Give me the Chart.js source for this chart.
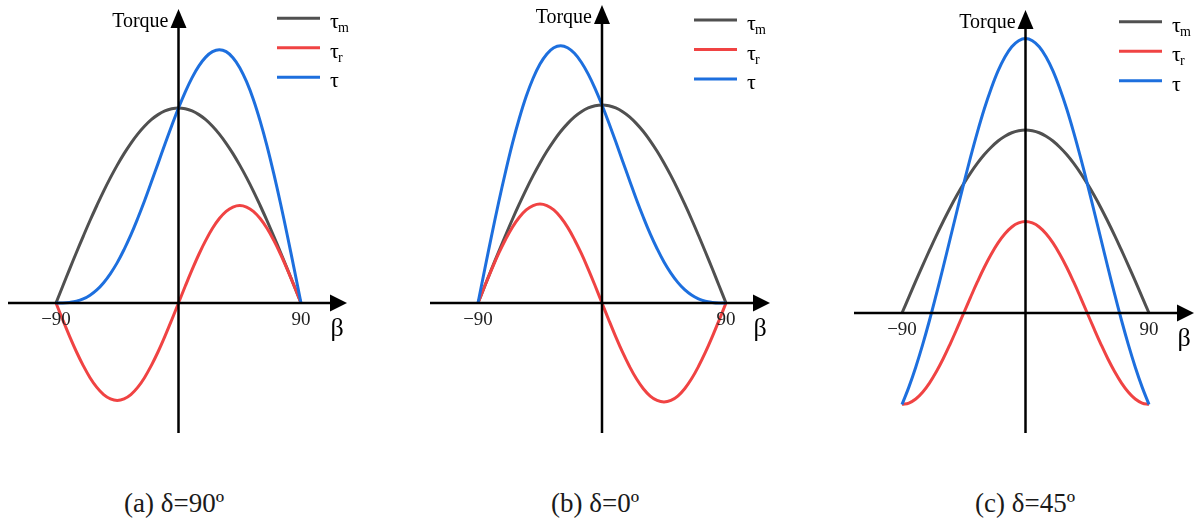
<!DOCTYPE html>
<html>
<head>
<meta charset="utf-8">
<script src="https://cdn.jsdelivr.net/npm/chart.js@4.4.0/dist/chart.umd.min.js"></script>
<style>
  body { margin: 0; background: #fff; }
  #wrap { position: relative; width: 1198px; height: 522px; overflow: hidden; }
  #wrap canvas { position: absolute; top: 0; }
  .caption {
    position: absolute; top: 490px; line-height: 26px;
    font-family: "Liberation Serif", "Times New Roman", serif; font-size: 27px;
    color: #1a1a1a; transform: translateX(-50%); white-space: nowrap;
  }
</style>
</head>
<body>
<div id="wrap">
  <canvas id="chartA" width="400" height="460" style="left:0px"></canvas>
  <canvas id="chartB" width="400" height="460" style="left:400px"></canvas>
  <canvas id="chartC" width="398" height="460" style="left:800px"></canvas>
  <div class="caption" id="capA" style="left:174px"></div>
  <div class="caption" id="capB" style="left:595px"></div>
  <div class="caption" id="capC" style="left:1025px"></div>
</div>
<script>
// Угол β, градусы
const beta = [-90, -85, -80, -75, -70, -65, -60, -55, -50, -45, -40, -35, -30, -25, -20, -15, -10, -5,
  0, 5, 10, 15, 20, 25, 30, 35, 40, 45, 50, 55, 60, 65, 70, 75, 80, 85, 90];

// (a) δ=90º
const tauM_a = [0.000, 0.087, 0.174, 0.259, 0.342, 0.423, 0.500, 0.574, 0.643, 0.707, 0.766, 0.819, 0.866, 0.906, 0.940, 0.966, 0.985, 0.996,
  1.000, 0.996, 0.985, 0.966, 0.940, 0.906, 0.866, 0.819, 0.766, 0.707, 0.643, 0.574, 0.500, 0.423, 0.342, 0.259, 0.174, 0.087, 0.000];
const tauR_a = [0.000, -0.087, -0.171, -0.250, -0.321, -0.383, -0.433, -0.470, -0.492, -0.500, -0.492, -0.470, -0.433, -0.383, -0.321, -0.250, -0.171, -0.087,
  0.000, 0.087, 0.171, 0.250, 0.321, 0.383, 0.433, 0.470, 0.492, 0.500, 0.492, 0.470, 0.433, 0.383, 0.321, 0.250, 0.171, 0.087, 0.000];
const tau_a = [0.000, 0.000, 0.003, 0.009, 0.021, 0.040, 0.067, 0.104, 0.151, 0.207, 0.274, 0.349, 0.433, 0.523, 0.619, 0.716, 0.814, 0.909,
  1.000, 1.083, 1.156, 1.216, 1.261, 1.289, 1.299, 1.289, 1.258, 1.207, 1.135, 1.044, 0.933, 0.806, 0.663, 0.509, 0.345, 0.174, 0.000];

// (b) δ=0º
const tauM_b = [0.000, 0.087, 0.174, 0.259, 0.342, 0.423, 0.500, 0.574, 0.643, 0.707, 0.766, 0.819, 0.866, 0.906, 0.940, 0.966, 0.985, 0.996,
  1.000, 0.996, 0.985, 0.966, 0.940, 0.906, 0.866, 0.819, 0.766, 0.707, 0.643, 0.574, 0.500, 0.423, 0.342, 0.259, 0.174, 0.087, 0.000];
const tauR_b = [0.000, 0.087, 0.171, 0.250, 0.321, 0.383, 0.433, 0.470, 0.492, 0.500, 0.492, 0.470, 0.433, 0.383, 0.321, 0.250, 0.171, 0.087,
  0.000, -0.087, -0.171, -0.250, -0.321, -0.383, -0.433, -0.470, -0.492, -0.500, -0.492, -0.470, -0.433, -0.383, -0.321, -0.250, -0.171, -0.087, 0.000];
const tau_b = [0.000, 0.174, 0.345, 0.509, 0.663, 0.806, 0.933, 1.044, 1.135, 1.207, 1.258, 1.289, 1.299, 1.289, 1.261, 1.216, 1.156, 1.083,
  1.000, 0.909, 0.814, 0.716, 0.619, 0.523, 0.433, 0.349, 0.274, 0.207, 0.151, 0.104, 0.067, 0.040, 0.021, 0.009, 0.003, 0.000, 0.000];

// (c) δ=45º
const tauM_c = [0.000, 0.087, 0.174, 0.259, 0.342, 0.423, 0.500, 0.574, 0.643, 0.707, 0.766, 0.819, 0.866, 0.906, 0.940, 0.966, 0.985, 0.996,
  1.000, 0.996, 0.985, 0.966, 0.940, 0.906, 0.866, 0.819, 0.766, 0.707, 0.643, 0.574, 0.500, 0.423, 0.342, 0.259, 0.174, 0.087, 0.000];
const tauR_c = [-0.500, -0.492, -0.470, -0.433, -0.383, -0.321, -0.250, -0.171, -0.087, 0.000, 0.087, 0.171, 0.250, 0.321, 0.383, 0.433, 0.470, 0.492,
  0.500, 0.492, 0.470, 0.433, 0.383, 0.321, 0.250, 0.171, 0.087, 0.000, -0.087, -0.171, -0.250, -0.321, -0.383, -0.433, -0.470, -0.492, -0.500];
const tau_c = [-0.500, -0.405, -0.296, -0.174, -0.041, 0.102, 0.250, 0.403, 0.556, 0.707, 0.853, 0.990, 1.116, 1.227, 1.323, 1.399, 1.455, 1.488,
  1.500, 1.488, 1.455, 1.399, 1.323, 1.227, 1.116, 0.990, 0.853, 0.707, 0.556, 0.403, 0.250, 0.102, -0.041, -0.174, -0.296, -0.405, -0.500];

// Подписи
const xTickLabels = [-90, 90];
const seriesBase = ['τ', 'τ', 'τ'];
const seriesSub = ['m', 'r', ''];
const captions = ['(a) δ=90º', '(b) δ=0º', '(c) δ=45º'];

const colors = ['#505050', '#f04343', '#1d6fde'];
const serif = '"Liberation Serif", "Times New Roman", serif';

// Плагин: оси со стрелками, подписи и легенда
const decorPlugin = {
  id: 'decor',
  afterDatasetsDraw(chart, args, opts) {
    const ctx = chart.ctx;
    const xs = chart.scales.x, ys = chart.scales.y;
    const area = chart.chartArea;
    const x0 = xs.getPixelForValue(0);
    const y0 = ys.getPixelForValue(0);
    ctx.save();
    ctx.strokeStyle = '#000';
    ctx.fillStyle = '#000';
    ctx.lineWidth = 2.5;
    // ось β
    ctx.beginPath();
    ctx.moveTo(area.left, y0);
    ctx.lineTo(area.right - 14, y0);
    ctx.stroke();
    ctx.beginPath();
    ctx.moveTo(area.right, y0);
    ctx.lineTo(area.right - 17, y0 - 8.5);
    ctx.lineTo(area.right - 17, y0 + 8.5);
    ctx.closePath();
    ctx.fill();
    // ось момента
    ctx.beginPath();
    ctx.moveTo(x0, area.bottom);
    ctx.lineTo(x0, area.top + 16);
    ctx.stroke();
    ctx.beginPath();
    ctx.moveTo(x0, area.top);
    ctx.lineTo(x0 - 8, area.top + 19);
    ctx.lineTo(x0 + 8, area.top + 19);
    ctx.closePath();
    ctx.fill();

    // подписи делений
    ctx.fillStyle = '#222';
    ctx.font = '19px ' + serif;
    ctx.textAlign = 'center';
    ctx.textBaseline = 'alphabetic';
    xTickLabels.forEach((v) => {
      const t = v < 0 ? '\u2212' + Math.abs(v) : String(v);
      ctx.fillText(t, xs.getPixelForValue(v), y0 + 22);
    });
    ctx.fillStyle = '#000';
    ctx.font = '26px ' + serif;
    ctx.fillText('β', area.right - 10, y0 + 33);
    ctx.font = '20px ' + serif;
    ctx.textAlign = 'right';
    ctx.fillText('Torque', x0 - 10, area.top + 18);

    // легенда
    const lg = opts.legend;
    ctx.textAlign = 'left';
    ctx.lineWidth = 3;
    seriesBase.forEach((name, i) => {
      const y = lg.y + i * 29.5;
      ctx.strokeStyle = colors[i];
      ctx.beginPath();
      ctx.moveTo(lg.x, y);
      ctx.lineTo(lg.x + 43, y);
      ctx.stroke();
      ctx.fillStyle = '#000';
      ctx.font = '22px ' + serif;
      ctx.fillText(name, lg.x + 53, y + 10);
      if (seriesSub[i]) {
        ctx.font = '14px ' + serif;
        ctx.fillText(seriesSub[i], lg.x + 61, y + 14);
      }
    });
    ctx.restore();
  }
};

function makeChart(id, series, panel) {
  const datasets = series.map((vals, i) => ({
    label: seriesBase[i] + seriesSub[i],
    data: beta.map((b, k) => ({ x: b, y: vals[k] })),
    borderColor: colors[i],
    borderWidth: 3,
    pointRadius: 0,
    fill: false,
    tension: 0.4,
    order: 3 - i
  }));
  return new Chart(document.getElementById(id).getContext('2d'), {
    type: 'line',
    data: { datasets: datasets },
    options: {
      responsive: false,
      animation: false,
      layout: { padding: panel.pad },
      scales: {
        x: { type: 'linear', display: false, min: panel.x[0], max: panel.x[1] },
        y: { type: 'linear', display: false, min: panel.y[0], max: panel.y[1] }
      },
      plugins: {
        legend: { display: false },
        tooltip: { enabled: false },
        decor: { legend: panel.legend }
      }
    },
    plugins: [decorPlugin]
  });
}

makeChart('chartA', [tauM_a, tauR_a, tau_a], {
  pad: { left: 8, top: 9, right: 53, bottom: 27 },
  x: [-125.27, 123.80], y: [-0.6667, 1.5077], legend: { x: 277, y: 18.3 }
});
makeChart('chartB', [tauM_b, tauR_b, tau_b], {
  pad: { left: 30, top: 5, right: 30, bottom: 27 },
  x: [-124.84, 121.94], y: [-0.6566, 1.505], legend: { x: 294, y: 20 }
});
makeChart('chartC', [tauM_c, tauR_c, tau_c], {
  pad: { left: 54, top: 10, right: 4, bottom: 27 },
  x: [-124.98, 122.79], y: [-0.6557, 1.6557], legend: { x: 319, y: 21.7 }
});

document.getElementById('capA').textContent = captions[0];
document.getElementById('capB').textContent = captions[1];
document.getElementById('capC').textContent = captions[2];
</script>
</body>
</html>
